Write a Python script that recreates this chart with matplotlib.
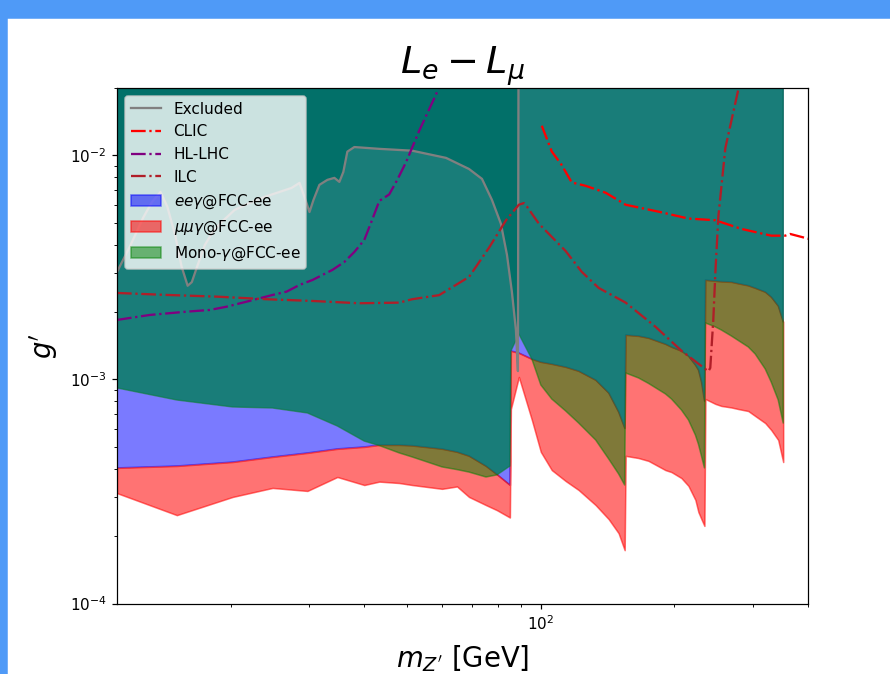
import matplotlib.pyplot as plt
import numpy as np

# ---- values ----
# signal bands, four FCC-ee runs (Z pole, WW, ZH, ttbar)
mass_sig = [11.09, 15.13, 20.21, 24.86, 29.79, 34.79, 40.01, 43.25, 47.97, 51.29,
            59.90, 64.74, 68.89, 75.22, 79.63, 85.17,
            85.61, 89.23, 95.45, 100.0, 105.85, 113.8, 121.7, 132.9, 142.2, 149.7, 154.5,
            155.3, 166.0, 174.9, 190.9, 197.0, 207.4, 215.1, 223.0, 226.5, 230.1, 233.7,
            234.9, 247.4, 255.1, 268.7, 278.6, 293.4, 304.2, 320.4, 330.5, 342.7, 351.7]
# lower edge of the Mono-gamma region (units of 1e-4)
mono_low = [9.17, 8.10, 7.54, 7.46, 7.09, 6.20, 5.31, 5.07, 4.70, 4.51,
            4.07, 3.96, 3.86, 3.67, 3.75, 4.11,
            13.41, 15.96, 12.34, 9.45, 8.18, 7.23, 6.39, 5.37, 4.42, 3.79, 3.38,
            10.69, 10.16, 9.60, 8.62, 8.18, 7.31, 6.60, 5.65, 5.15, 4.56, 4.03,
            17.88, 17.16, 16.63, 15.64, 14.93, 13.97, 12.99, 11.14, 9.74, 8.10, 6.39]
# lower edge of the ee-gamma region (= upper edge of mumu-gamma band)
ee_low = [4.03, 4.11, 4.28, 4.51, 4.70, 4.90, 5.00, 5.10, 5.10, 5.07,
          4.90, 4.75, 4.56, 4.11, 3.77, 3.38,
          13.41, 13.13, 12.34, 11.97, 11.73, 11.37, 10.91, 9.95, 8.71, 7.16, 6.07,
          15.80, 15.64, 15.32, 14.40, 13.97, 13.41, 12.73, 11.60, 11.03, 9.74, 8.02,
          27.80, 27.52, 27.38, 27.24, 26.82, 26.27, 25.60, 24.59, 23.35, 21.29, 18.06]
# lower edge of the mumu-gamma band
mumu_low = [3.11, 2.48, 2.99, 3.28, 3.18, 3.67, 3.38, 3.50, 3.45, 3.38,
            3.25, 3.33, 2.99, 2.75, 2.61, 2.42,
            7.38, 10.26, 6.60, 4.75, 3.94, 3.52, 3.21, 2.75, 2.38, 2.06, 1.73,
            4.56, 4.46, 4.33, 3.94, 3.86, 3.63, 3.35, 2.90, 2.56, 2.38, 2.22,
            8.18, 7.78, 7.62, 7.50, 7.38, 7.23, 6.87, 6.39, 5.95, 5.37, 4.28]
g_top = 1.0

mass_excl = [11.09, 11.9, 12.7, 13.3, 13.9, 14.4, 15.0, 15.5, 16.0, 16.35,
             16.77, 17.49, 18.23, 19.10, 20.42, 22.07, 23.84, 25.77, 27.43, 28.59,
             29.49, 30.11, 30.74, 31.70, 33.04, 34.26, 35.16, 35.89, 36.65, 38.00,
             43.25, 51.29, 61.16, 68.89, 73.68, 77.60, 81.30, 83.89, 86.06, 87.88,
             88.79, 89.39, 400.0]
g_excl = [3.02e-3, 3.98e-3, 5.27e-3, 6.2e-3, 6.87e-3, 5.9e-3, 4.4e-3, 3.2e-3, 2.62e-3, 2.72e-3,
          3.15e-3, 3.98e-3, 4.56e-3, 5.05e-3, 5.71e-3, 6.14e-3, 6.53e-3, 6.87e-3, 7.16e-3, 7.54e-3,
          6.33e-3, 5.59e-3, 6.33e-3, 7.39e-3, 7.78e-3, 7.94e-3, 7.62e-3, 8.44e-3, 1.04e-2, 1.09e-2,
          1.07e-2, 1.05e-2, 9.75e-3, 8.70e-3, 7.86e-3, 6.33e-3, 4.95e-3, 3.60e-3, 2.46e-3, 1.66e-3,
          1.09e-3, 1.0, 1.0]

mass_clic = [100.5, 105.85, 111.5, 117.4, 126.2, 140.0, 155.3, 184.1, 215.1, 247.4,
             282.9, 330.5, 355.3, 364.6, 410.7]
g_clic = [1.357e-2, 1.041e-2, 9.045e-3, 7.577e-3, 7.317e-3, 6.816e-3, 6.024e-3, 5.612e-3,
          5.227e-3, 5.137e-3, 4.702e-3, 4.384e-3, 4.384e-3, 4.462e-3, 4.195e-3]

mass_hllhc = [11.09, 13.15, 15.93, 17.94, 19.59, 21.73, 24.86, 26.73, 28.59, 30.58,
              33.91, 36.08, 38.00, 40.01, 41.50, 43.25, 45.53, 47.47, 49.72, 53.19,
              58.99, 62.12]
g_hllhc = [1.844e-3, 1.941e-3, 2.008e-3, 2.043e-3, 2.113e-3, 2.225e-3, 2.384e-3, 2.466e-3,
           2.642e-3, 2.780e-3, 3.083e-3, 3.346e-3, 3.709e-3, 4.195e-3, 5.048e-3, 6.264e-3,
           6.697e-3, 7.775e-3, 9.354e-3, 1.287e-2, 2.006e-2, 2.535e-2]

mass_ilc = [11.09, 14.37, 18.61, 24.10, 30.58, 38.99, 47.97, 51.29, 58.99, 68.89,
            76.42, 83.47, 89.23, 91.57, 93.01, 98.97, 113.8, 123.6, 135.0, 155.3,
            181.3, 207.4, 238.5, 240.9, 244.7, 247.4, 251.2, 260.5, 278.6, 287.4]
g_ilc = [2.433e-3, 2.384e-3, 2.343e-3, 2.281e-3, 2.241e-3, 2.189e-3, 2.203e-3, 2.281e-3,
         2.379e-3, 2.868e-3, 3.872e-3, 5.137e-3, 6.024e-3, 6.130e-3, 5.920e-3, 4.960e-3,
         3.740e-3, 3.026e-3, 2.562e-3, 2.203e-3, 1.719e-3, 1.344e-3, 1.087e-3, 1.126e-3,
         1.844e-3, 3.026e-3, 5.325e-3, 1.079e-2, 1.967e-2, 2.408e-2]


def main():
    m = np.array(mass_sig)
    g_mono = np.array(mono_low) * 1e-4
    g_ee = np.array(ee_low) * 1e-4
    g_mumu = np.array(mumu_low) * 1e-4

    fig = plt.figure(figsize=(890 / 110, 674 / 110), dpi=110)
    # notebook frame around the output
    fig.patches.append(plt.Rectangle((0, 1 - 18 / 674), 1, 18 / 674, transform=fig.transFigure,
                                     color='#4f9af7', zorder=0))
    fig.patches.append(plt.Rectangle((0, 0), 7 / 890, 1, transform=fig.transFigure,
                                     color='#4f9af7', zorder=0))

    ax = fig.add_axes([117 / 890, 70.5 / 674, 691 / 890, 515.5 / 674])

    # limits from other experiments
    ax.plot(mass_excl, g_excl, color='gray', lw=1.5, label='Excluded')
    ax.plot(mass_clic, g_clic, '-.', color='red', lw=1.5, label='CLIC')
    ax.plot(mass_hllhc, g_hllhc, '-.', color='purple', lw=1.5, label='HL-LHC')
    ax.plot(mass_ilc, g_ilc, '-.', color='#b01e28', lw=1.5, label='ILC')

    # FCC-ee reach
    ax.fill_between(m, g_ee, g_top, color='blue', alpha=0.52, label=r'$ee\gamma$@FCC-ee')
    ax.fill_between(m, g_mumu, g_ee, color='red', alpha=0.55, label=r'$\mu\mu\gamma$@FCC-ee')
    ax.fill_between(m, g_mono, g_top, color='green', alpha=0.5, label=r'Mono-$\gamma$@FCC-ee')
    # where eegamma and mono-gamma overlap
    ax.fill_between(m, np.maximum(g_ee, g_mono), g_top, color='#037d76', alpha=0.6, lw=0)
    # already excluded region
    ax.fill_between(mass_excl, g_excl, g_top, color='#006f68', alpha=0.9, lw=0)

    ax.set_xscale('log')
    ax.set_yscale('log')
    ax.set_xlim(11.09, 400)
    ax.set_ylim(1e-4, 2e-2)

    ax.set_title(r'$L_e - L_\mu$', fontsize=25)
    ax.set_xlabel(r"$m_{Z^\prime}$ [GeV]", fontsize=18, labelpad=7)
    ax.set_ylabel(r"$g^\prime$", fontsize=18, labelpad=6)
    ax.legend(loc='upper left')

    fig.savefig('out.png', dpi=110)


if __name__ == "__main__":
    main()
